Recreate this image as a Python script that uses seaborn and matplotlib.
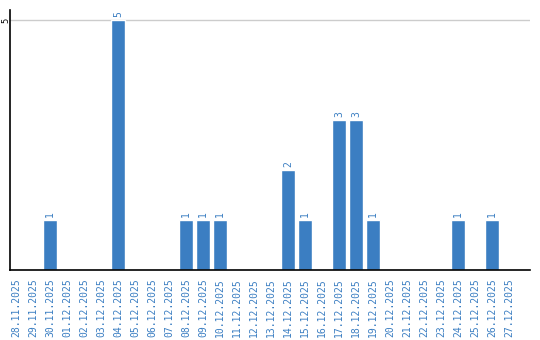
import matplotlib
matplotlib.use("Agg")
import matplotlib.pyplot as plt
import seaborn as sns
import pandas as pd

dates = ["28.11.2025", "29.11.2025", "30.11.2025", "01.12.2025", "02.12.2025",
         "03.12.2025", "04.12.2025", "05.12.2025", "06.12.2025", "07.12.2025",
         "08.12.2025", "09.12.2025", "10.12.2025", "11.12.2025", "12.12.2025",
         "13.12.2025", "14.12.2025", "15.12.2025", "16.12.2025", "17.12.2025",
         "18.12.2025", "19.12.2025", "20.12.2025", "21.12.2025", "22.12.2025",
         "23.12.2025", "24.12.2025", "25.12.2025", "26.12.2025", "27.12.2025"]
counts = [0, 0, 1, 0, 0, 0, 5, 0, 0, 0,
          1, 1, 1, 0, 0, 0, 2, 1, 0, 3,
          3, 1, 0, 0, 0, 0, 1, 0, 1, 0]
y_ticks = [5]

blue = "#3b7ec2"
sns.set_theme(style="white")
plt.rcParams['font.family'] = ['DejaVu Sans']

df = pd.DataFrame({"date": dates, "count": counts})

fig = plt.figure(figsize=(5.4, 3.4), dpi=100)
ax = fig.add_axes([10/540, 70/340, 520/540, 260/340])
sns.barplot(data=df, x="date", y="count", color=blue, width=0.82, ax=ax,
            saturation=1, order=dates)

ax.set_xlim(-0.36, 30.23)
ax.set_ylim(0, 5.2)
ax.set_yticks(y_ticks)
ax.set_yticklabels([str(v) for v in y_ticks], rotation=90, va="center",
                   fontsize=6, color="black")
ax.tick_params(axis="y", length=0, pad=0)
ax.tick_params(axis="x", length=0, pad=6)
ax.grid(axis="y", color="#cccccc", linewidth=1)
ax.set_axisbelow(True)
for lbl in ax.get_xticklabels():
    lbl.set_rotation(90)
    lbl.set_color(blue)
    lbl.set_fontsize(7)
    lbl.set_fontfamily("DejaVu Sans Mono")
    lbl.set_va("top")
    lbl.set_ha("center")
ax.set_xlabel("")
ax.set_ylabel("")

for s in ["top", "right"]:
    ax.spines[s].set_visible(False)
for s in ["left", "bottom"]:
    ax.spines[s].set_color("black")
    ax.spines[s].set_linewidth(1.2)

for i, v in enumerate(counts):
    if v > 0:
        ax.annotate(str(v), (i, v), xytext=(0, 2), textcoords="offset points",
                    rotation=90, ha="center", va="bottom", color=blue,
                    fontsize=7, fontfamily="DejaVu Sans Mono")

fig.savefig("out.png", dpi=100)
